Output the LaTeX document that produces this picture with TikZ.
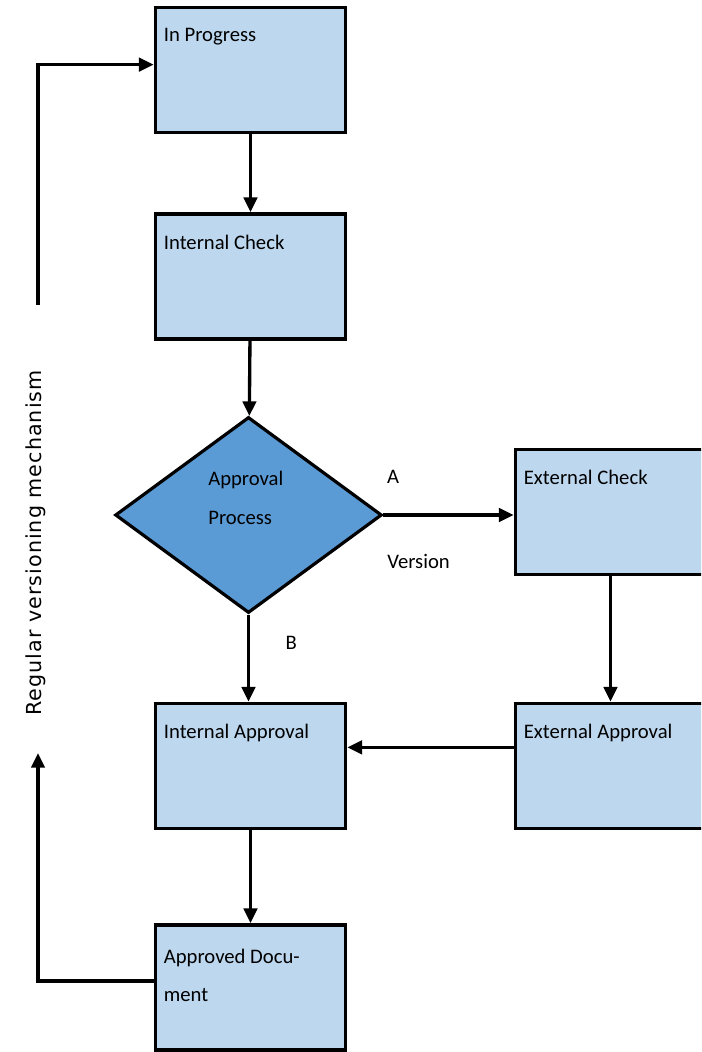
\documentclass[tikz,border=0pt]{standalone}
\usepackage{fontspec}
\setmainfont{Carlito}
\newfontfamily\rotfont[LetterSpace=5]{DejaVu Sans}
\usepackage{tikz}
\usetikzlibrary{arrows.meta, positioning, calc, shapes.geometric}

\definecolor{stagefill}{RGB}{189,215,238}
\definecolor{decisionfill}{RGB}{91,155,213}
\newcommand{\boxfont}{\fontsize{15.5pt}{29pt}\selectfont}

\begin{document}
\begin{tikzpicture}[x=0.75pt, y=-0.75pt, font=\boxfont,
    stage/.style={draw, line width=2.8pt, fill=stagefill, minimum width=142.5pt, minimum height=93.75pt},
    stagetext/.style={anchor=north west, inner sep=0pt, xshift=7.5pt, yshift=-17pt, align=left},
    decision/.style={diamond, draw, line width=2.4pt, fill=decisionfill, minimum width=200pt, minimum height=147pt, inner sep=0pt},
    flow/.style={line width=2.5pt, -{Triangle[length=11pt, width=10pt]}}]
    \useasboundingbox (0,0) rectangle (701,1052);
    \clip (0,0) rectangle (701,1052);

    \node[stage, label={[stagetext]north west:In Progress}] (progress) at (250.5,70) {};
    \node[stage, label={[stagetext]north west:Internal Check}] (intcheck) at (250.5,276.5) {};
    \node[decision, label={[align=left, inner sep=0pt, xshift=-2pt, yshift=13pt]center:Approval\\Process}] (approval) at (248.5,515) {};
    \node[stage, label={[stagetext]north west:External Check}] (extcheck) at (610.5,512) {};
    \node[stage, label={[stagetext]north west:External Approval}] (extappr) at (610.5,766) {};
    \node[stage, label={[stagetext]north west:Internal Approval}] (intappr) at (250.5,766) {};
    \node[stage, label={[stagetext, yshift=-2pt]north west:Approved Docu-\\ment}] (approved) at (250.5,987.5) {};

    \node[rotate=90, font=\rotfont\fontsize{15.5pt}{18pt}\selectfont] (mechanism) at (36,543) {Regular versioning mechanism};

    \foreach \a/\b in {progress/intcheck, intcheck/approval, extcheck/extappr, intappr/approved}
        \draw[flow] (\a) -- (\b);

    \draw[flow] (approval.east) -- (approval.east -| extcheck.west)
        node[pos=0.075, yshift=28.5pt] (alabel) {A}
        node[pos=0.27, yshift=-35pt] (vlabel) {Version};
    \draw[flow] (approval.south) -- (approval.south |- intappr.north)
        node[pos=0.32, xshift=32pt] (blabel) {B};
    \draw[flow] ([yshift=14pt]extappr.west) -- ([yshift=14pt]intappr.east);

    \coordinate (loopdown) at (38,753);
    \coordinate (loopup) at (38,305);
    \draw[flow] ([yshift=5pt]approved.west) -| (loopdown);
    \draw[flow] (loopup) |- ([yshift=4pt]progress.west);
\end{tikzpicture}
\end{document}
